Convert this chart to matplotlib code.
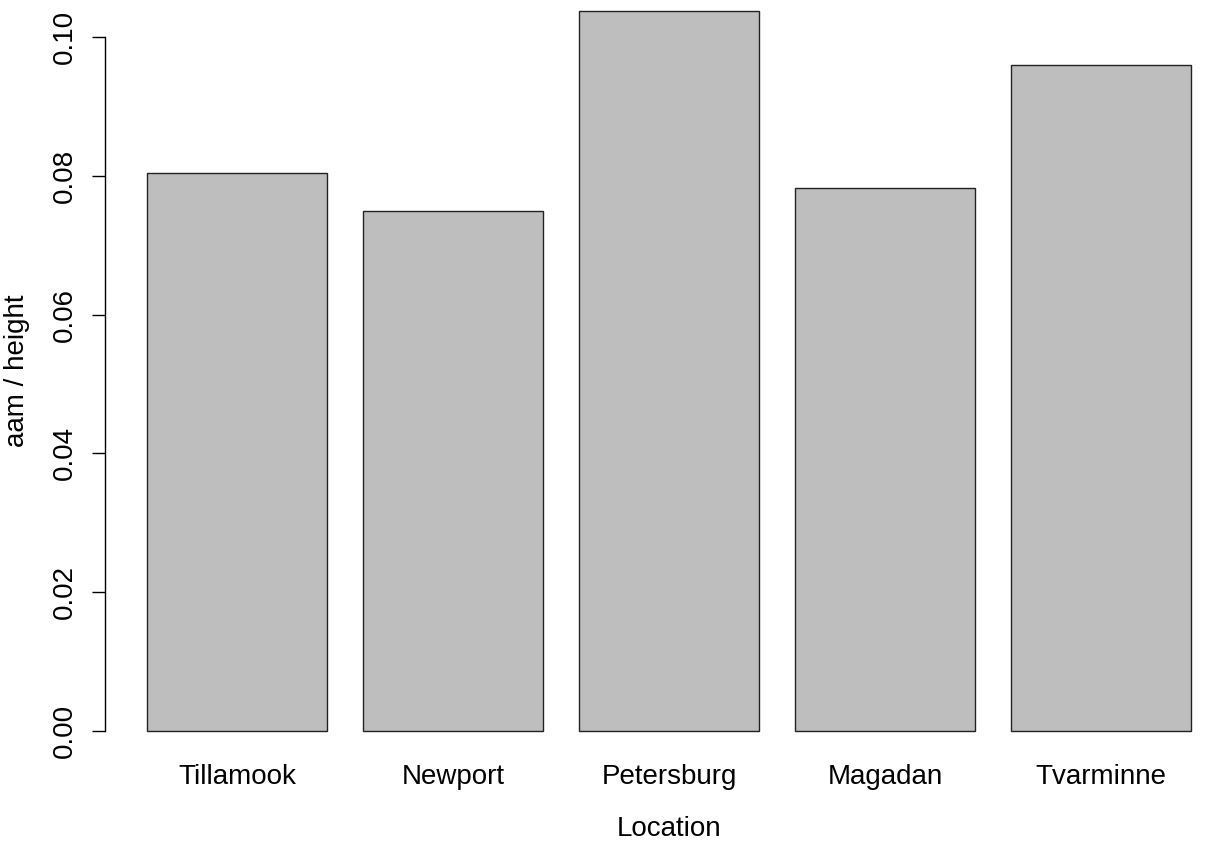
import matplotlib
matplotlib.use("Agg")
import matplotlib.pyplot as plt
import numpy as np

locations = ["Tillamook", "Newport", "Petersburg", "Magadan", "Tvarminne"]
ratios = [0.0804, 0.0749, 0.1037, 0.0782, 0.0960]
y_ticks = [0.00, 0.02, 0.04, 0.06, 0.08, 0.10]

plt.rcParams['font.family'] = ['Liberation Sans', 'DejaVu Sans']

W, H = 1209, 846
fig = plt.figure(figsize=(W / 100, H / 100), dpi=100)

# R barplot layout: bars of width 1, space 0.2, axes extended by 4%
lefts = 0.2 + 1.2 * np.arange(len(locations))
centers = lefts + 0.5
x0, x1 = 0.2, lefts[-1] + 1.0
xpad = 0.04 * (x1 - x0)
xlim = (x0 - xpad, x1 + xpad)
ytop = max(ratios)
ypad = 0.04 * ytop
ylim = (-ypad, ytop + ypad)

# pixel mapping
px_per_x = 180.0
px_left = 147 - (0.2 - xlim[0]) * px_per_x
px_right = px_left + (xlim[1] - xlim[0]) * px_per_x
px_per_y = 6940.0
px_bottom = 731 + (0 - ylim[0]) * px_per_y
px_top = 731 - ylim[1] * px_per_y

ax = fig.add_axes([px_left / W, 1 - px_bottom / H,
                   (px_right - px_left) / W, (px_bottom - px_top) / H])
ax.bar(centers, ratios, width=1.0, color='#bebebe', edgecolor='#222222', linewidth=1.0)
ax.set_xlim(*xlim)
ax.set_ylim(*ylim)

for s in ['top', 'right', 'bottom']:
    ax.spines[s].set_visible(False)
ax.spines['left'].set_bounds(0, 0.10)
ax.spines['left'].set_linewidth(1.0)

fs = 20
ax.set_yticks(y_ticks)
ax.set_yticklabels([f"{v:.2f}" for v in y_ticks], rotation=90, va='center')
ax.tick_params(axis='y', length=9.4, width=1.0, pad=10, labelsize=fs)
ax.set_xticks(centers)
ax.set_xticklabels(locations)
ax.tick_params(axis='x', length=0, pad=3, labelsize=fs)

ax.set_xlabel("Location", fontsize=fs)
ax.xaxis.set_label_coords(0.5, -(829 - px_bottom) / (px_bottom - px_top))
ax.xaxis.label.set_va('center')
ax.set_ylabel("aam / height", fontsize=fs)
ax.yaxis.set_label_coords(-(px_left - 17) / (px_right - px_left), 0.5)
ax.yaxis.label.set_va('center')

fig.savefig("out.png", dpi=100)
